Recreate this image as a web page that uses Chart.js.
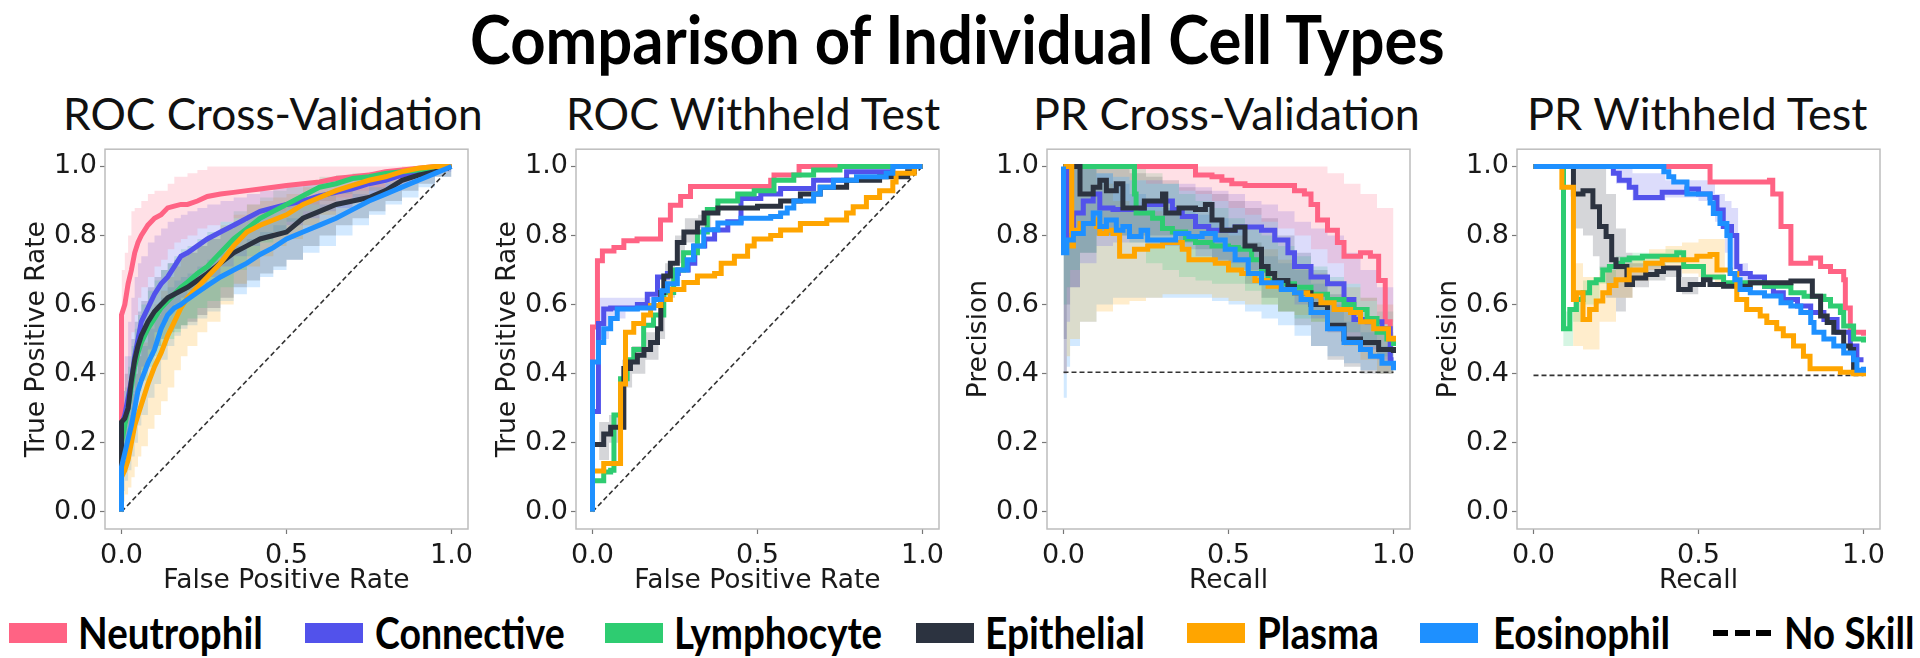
<!DOCTYPE html>
<html>
<head>
<meta charset="utf-8">
<script src="https://cdn.jsdelivr.net/npm/chart.js@4.4.1/dist/chart.umd.min.js"></script>
<style>
  html, body { margin: 0; padding: 0; background: #fff; }
  body { width: 1920px; height: 658px; position: relative; overflow: hidden; }
  .txt { position: absolute; white-space: nowrap; line-height: 1; color: #000; transform-origin: 0 50%; }
  #mainTitle { font-family: Lato, sans-serif; font-weight: 700; font-size: 66px; }
  .ptitle { font-family: Lato, sans-serif; font-size: 44px; color: #111; }
  .legText { font-family: Lato, sans-serif; font-weight: 700; font-size: 44px; }
  .patch { position: absolute; height: 20px; }
  canvas { position: absolute; top: 130px; }
</style>
</head>
<body>
<div id="mainTitle" class="txt" data-x="470" data-w="975" data-cy="41">Comparison of Individual Cell Types</div>
<div class="txt ptitle" data-x="63" data-w="420" data-cy="114">ROC Cross-Validation</div>
<div class="txt ptitle" data-x="566" data-w="374" data-cy="114">ROC Withheld Test</div>
<div class="txt ptitle" data-x="1033" data-w="387" data-cy="114">PR Cross-Validation</div>
<div class="txt ptitle" data-x="1527" data-w="340" data-cy="114">PR Withheld Test</div>

<canvas id="rocCv" width="493" height="470" style="left:1px"></canvas>
<canvas id="rocTest" width="493" height="470" style="left:472px"></canvas>
<canvas id="prCv" width="493" height="470" style="left:943px"></canvas>
<canvas id="prTest" width="493" height="470" style="left:1413px"></canvas>

<script>
// ---- legend / series ----
const cellTypes = ['Neutrophil', 'Connective', 'Lymphocyte', 'Epithelial', 'Plasma', 'Eosinophil'];
const cellColors = ['#ff6384', '#5252eb', '#2ecc71', '#2c3340', '#ffa500', '#1e90ff'];

const xTickVals = [0, 0.5, 1.0];
const yTickVals = [0, 0.2, 0.4, 0.6, 0.8, 1.0];

// ---- ROC cross-validation (mean and +/- band on a common FPR grid) ----
const rocCvX = [0, 0, .01, .02, .03, .04, .05, .06, .08, .10, .12, .14, .16, .18, .20, .23, .26, .30, .34, .38, .42, .46, .50, .55, .60, .65, .70, .75, .80, .85, .90, .95, 1];
const rocCvNeutro = [0, .57, .60, .66, .70, .75, .78, .80, .83, .85, .86, .88, .885, .89, .89, .90, .913, .92, .925, .93, .935, .94, .945, .95, .955, .965, .97, .975, .985, .99, .995, 1, 1];
const rocCvNeutroHi = [0, .70, .75, .80, .87, .88, .88, .90, .92, .93, .93, .95, .97, .97, .98, .99, 1, 1, 1, 1, 1, 1, 1, 1, 1, 1, 1, 1, 1, 1, 1, 1, 1];
const rocCvNeutroLo = [0, .25, .35, .45, .52, .57, .62, .65, .68, .71, .73, .76, .78, .79, .80, .82, .83, .84, .85, .86, .86, .87, .88, .89, .90, .91, .93, .94, .96, .97, .98, .99, 1];
const rocCvConn = [0, .25, .28, .33, .38, .45, .50, .55, .59, .63, .66, .68, .71, .74, .75, .77, .79, .81, .83, .85, .87, .88, .89, .90, .915, .925, .935, .95, .96, .975, .985, .995, 1];
const rocCvConnHi = [0, .35, .45, .55, .62, .68, .72, .74, .78, .80, .82, .84, .85, .86, .87, .88, .89, .90, .91, .92, .93, .94, .95, .95, .96, .97, .975, .98, .985, .99, .995, 1, 1];
const rocCvConnLo = [0, .15, .18, .22, .28, .33, .38, .42, .47, .52, .55, .58, .60, .62, .64, .66, .68, .71, .74, .77, .79, .81, .83, .85, .87, .88, .90, .92, .93, .95, .97, .985, 1];
const rocCvLymph = [0, .20, .25, .30, .36, .42, .46, .49, .53, .56, .59, .61, .63, .65, .665, .69, .71, .75, .79, .82, .85, .87, .89, .915, .94, .95, .965, .97, .98, .985, .99, .995, 1];
const rocCvLymphHi = [0, .30, .36, .42, .48, .53, .57, .60, .64, .67, .70, .72, .74, .76, .77, .79, .81, .84, .87, .89, .91, .93, .94, .95, .97, .975, .98, .985, .99, .995, 1, 1, 1];
const rocCvLymphLo = [0, .12, .16, .20, .25, .30, .35, .38, .42, .45, .48, .50, .52, .54, .56, .59, .61, .65, .70, .74, .78, .81, .84, .87, .90, .92, .94, .95, .97, .975, .98, .99, 1];
const rocCvEpi = [0, .26, .27, .30, .38, .44, .48, .51, .55, .58, .60, .62, .63, .64, .65, .67, .69, .72, .75, .77, .79, .80, .81, .85, .87, .89, .90, .91, .93, .96, .975, .985, 1];
const rocCvEpiHi = [0, .35, .40, .45, .50, .55, .58, .61, .65, .68, .70, .72, .73, .74, .75, .77, .79, .82, .84, .86, .87, .88, .89, .91, .92, .93, .94, .95, .96, .98, .99, .995, 1];
const rocCvEpiLo = [0, .15, .16, .18, .25, .32, .38, .41, .45, .48, .50, .52, .53, .54, .55, .57, .59, .62, .65, .67, .69, .71, .73, .77, .80, .83, .85, .87, .90, .93, .95, .97, 1];
const rocCvPlasma = [0, .10, .12, .15, .20, .25, .28, .31, .37, .42, .46, .51, .55, .59, .62, .65, .68, .72, .77, .81, .83, .845, .86, .89, .91, .93, .945, .96, .97, .985, .995, 1, 1];
const rocCvPlasmaHi = [0, .2, .24, .28, .34, .40, .45, .49, .55, .60, .64, .68, .71, .74, .76, .78, .80, .83, .86, .89, .90, .91, .92, .94, .95, .96, .97, .98, .99, 1, 1, 1, 1];
const rocCvPlasmaLo = [0, .03, .05, .07, .10, .13, .16, .19, .24, .28, .32, .36, .41, .45, .48, .52, .55, .60, .66, .71, .74, .77, .79, .83, .86, .89, .91, .93, .95, .97, .98, .99, 1];
const rocCvEosin = [0, .13, .17, .21, .25, .30, .35, .38, .43, .47, .53, .57, .59, .60, .615, .635, .655, .68, .70, .72, .745, .765, .79, .81, .83, .85, .875, .90, .92, .94, .96, .98, 1];
const rocCvEosinHi = [0, .2, .25, .30, .35, .40, .45, .48, .53, .57, .62, .65, .67, .68, .69, .71, .73, .75, .77, .79, .81, .83, .85, .87, .89, .90, .92, .94, .95, .97, .98, .99, 1];
const rocCvEosinLo = [0, .06, .09, .12, .16, .20, .25, .28, .33, .37, .44, .48, .51, .53, .54, .56, .58, .61, .63, .65, .68, .70, .73, .75, .77, .80, .83, .86, .89, .91, .94, .97, 1];

// ---- ROC withheld test ----
const rocTestNeutroX = [0, 0, 0, .015, .03, .065, .095, .135, .206, .236, .267, .297, .54, .55, .626, 1];
const rocTestNeutroY = [0, .44, .535, .727, .755, .765, .785, .79, .845, .888, .913, .942, .96, .975, 1, 1];
const rocTestConnX = [0, 0, .018, .034, .055, .136, .166, .197, .227, .26, .29, .31, .34, .37, .41, .45, .51, .57, .67, .77, .91, 1];
const rocTestConnY = [0, .29, .545, .587, .59, .60, .63, .68, .69, .70, .72, .77, .79, .816, .84, .907, .92, .936, .96, .985, 1, 1];
const rocTestLymphX = [0, 0, .034, .055, .065, .085, .105, .125, .155, .185, .216, .246, .276, .318, .348, .38, .44, .49, .55, .61, .67, .75, 1];
const rocTestLymphY = [0, .09, .115, .12, .28, .385, .44, .47, .54, .57, .635, .70, .75, .81, .875, .90, .92, .93, .96, .975, .99, 1, 1];
const rocTestEpiX = [0, 0, .034, .055, .095, .115, .136, .156, .176, .197, .207, .216, .236, .257, .277, .318, .338, .38, .50, .57, .63, .69, .77, .87, .955, .975, 1];
const rocTestEpiY = [0, .195, .225, .245, .415, .434, .453, .47, .49, .53, .635, .683, .72, .78, .81, .836, .865, .88, .885, .90, .92, .94, .96, .97, .985, 1, 1];
const rocTestPlasmaX = [0, 0, .034, .085, .10, .125, .155, .176, .207, .236, .277, .318, .37, .39, .43, .47, .49, .54, .57, .63, .71, .77, .79, .83, .87, .91, .92, .975, 1];
const rocTestPlasmaY = [0, .118, .14, .37, .52, .545, .57, .597, .615, .644, .664, .683, .69, .72, .74, .77, .79, .80, .816, .835, .845, .865, .883, .91, .93, .955, .98, 1, 1];
const rocTestEosinX = [0, 0, .018, .034, .055, .075, .136, .186, .21, .227, .257, .287, .306, .337, .38, .45, .54, .57, .59, .61, .67, .69, .73, .80, .89, .91, 1];
const rocTestEosinY = [0, .434, .49, .53, .56, .587, .59, .615, .64, .66, .70, .73, .77, .817, .836, .85, .855, .865, .88, .90, .92, .94, .96, .97, .98, 1, 1];
const rocTestEpiBandX = [.02, .05, .09, .12, .16, .2, .22, .25, .28, .32, .36];
const rocTestEpiBandHi = [.26, .28, .44, .48, .52, .60, .72, .80, .85, .86, .88];
const rocTestEpiBandLo = [.15, .20, .36, .40, .44, .50, .62, .72, .78, .82, .86];
const rocTestConnBandX = [.02, .05, .1, .14, .18];
const rocTestConnBandHi = [.62, .62, .62, .62, .66];
const rocTestConnBandLo = [.50, .56, .58, .59, .60];

// ---- PR cross-validation ----
const prCvNeutroX = [0, .40, .45, .48, .51, .55, .70, .73, .75, .77, .80, .83, .85, .90, .93, .955, .975, .99, 1];
const prCvNeutroY = [1, .975, .97, .96, .95, .945, .93, .92, .89, .845, .815, .78, .74, .75, .74, .67, .55, .50, .49];
const prCvConnX = [0, .01, .03, .06, .09, .11, .15, .19, .245, .30, .33, .36, .40, .44, .52, .60, .64, .68, .70, .75, .80, .85, .88, .92, .965, .99, 1];
const prCvConnY = [1, .80, .865, .90, .92, .88, .875, .875, .89, .90, .875, .855, .826, .815, .825, .815, .787, .75, .71, .68, .66, .615, .557, .55, .53, .44, .44];
const prCvLymphX = [0, .215, .22, .27, .30, .33, .37, .40, .45, .50, .53, .57, .60, .62, .66, .70, .75, .80, .85, .88, .92, .95, .98, 1];
const prCvLymphY = [1, .92, .865, .85, .82, .81, .79, .78, .77, .765, .76, .73, .70, .67, .66, .65, .63, .615, .60, .586, .56, .52, .50, .48];
const prCvEpiX = [0, .05, .09, .11, .13, .16, .18, .245, .30, .31, .35, .40, .43, .45, .48, .52, .55, .58, .60, .62, .64, .68, .70, .75, .80, .85, .90, .955, 1];
const prCvEpiY = [1, .92, .94, .96, .93, .95, .88, .90, .92, .865, .88, .875, .89, .845, .815, .825, .77, .76, .71, .69, .67, .653, .634, .60, .54, .50, .49, .47, .46];
const prCvPlasmaX = [0, .025, .03, .05, .09, .10, .11, .13, .15, .17, .215, .255, .30, .36, .38, .46, .50, .54, .58, .62, .66, .70, .74, .78, .82, .87, .90, .94, .985, 1];
const prCvPlasmaY = [1, .77, .815, .835, .845, .826, .806, .815, .806, .74, .76, .77, .78, .76, .73, .72, .70, .69, .67, .653, .644, .634, .625, .605, .586, .577, .55, .53, .50, .51];
const prCvEosinX = [0, 0, .01, .03, .06, .09, .11, .13, .16, .18, .20, .235, .255, .34, .38, .42, .46, .49, .52, .56, .60, .66, .70, .72, .75, .80, .85, .90, .93, .965, 1];
const prCvEosinY = [1, .75, .787, .806, .835, .865, .826, .845, .815, .826, .797, .815, .787, .806, .797, .806, .787, .76, .73, .69, .663, .644, .634, .615, .577, .53, .49, .47, .45, .43, .41];
const prCvBandX = [0, .01, .02, .05, .1, .15, .2, .25, .3, .35, .4, .45, .5, .55, .6, .65, .7, .75, .8, .85, .9, .95, 1];
const prCvNeutroHi = [1, 1, 1, 1, 1, 1, 1, 1, 1, 1, 1, 1, 1, 1, 1, 1, 1, 1, .98, .95, .92, .88, .6];
const prCvNeutroLo = [1, 1, 1, 1, .98, .97, .96, .95, .95, .93, .92, .9, .88, .86, .84, .82, .8, .76, .72, .66, .61, .55, .45];
const prCvConnHi = [1, 1, 1, 1, .98, .97, .96, .96, .95, .95, .94, .93, .92, .90, .89, .87, .84, .82, .80, .75, .70, .65, .55];
const prCvConnLo = [.4, .55, .65, .72, .77, .78, .78, .77, .77, .76, .74, .72, .72, .70, .69, .64, .60, .56, .52, .50, .47, .44, .40];
const prCvLymphHi = [1, 1, 1, 1, 1, 1, 1, .98, .95, .92, .90, .88, .85, .83, .80, .77, .74, .71, .68, .66, .62, .58, .53];
const prCvLymphLo = [.6, .65, .7, .75, .8, .8, .78, .72, .70, .68, .67, .66, .66, .64, .60, .58, .56, .55, .54, .52, .48, .45, .42];
const prCvEpiHi = [1, 1, 1, 1, 1, 1, .98, .97, .96, .94, .93, .92, .90, .88, .85, .80, .75, .70, .63, .58, .55, .52, .50];
const prCvEpiLo = [.5, .6, .65, .75, .80, .80, .80, .80, .80, .78, .76, .73, .70, .66, .62, .58, .54, .48, .44, .42, .40, .40, .40];
const prCvPlasmaHi = [1, 1, 1, 1, .95, .9, .88, .87, .86, .85, .83, .81, .80, .78, .76, .73, .71, .69, .67, .65, .62, .6, .6];
const prCvPlasmaLo = [.4, .45, .5, .55, .58, .6, .61, .62, .63, .63, .63, .62, .61, .6, .6, .58, .57, .55, .52, .48, .44, .40, .37];
const prCvEosinHi = [1, 1, 1, 1, .98, .95, .92, .9, .88, .87, .86, .85, .82, .78, .74, .72, .7, .66, .6, .55, .52, .48, .45];
const prCvEosinLo = [.33, .42, .48, .55, .6, .62, .62, .62, .62, .62, .62, .61, .6, .58, .56, .54, .51, .48, .45, .43, .41, .40, .39];

// ---- PR withheld test ----
const prTestNeutroX = [0, .535, .715, .725, .75, .78, .84, .87, .90, .94, .945, .96, 1];
const prTestNeutroY = [1, .955, .96, .92, .826, .72, .735, .71, .696, .672, .59, .52, .51];
const prTestConnX = [0, .242, .26, .29, .31, .39, .465, .50, .535, .556, .575, .60, .616, .626, .657, .70, .727, .757, .80, .84, .88, .92, .96, .98, 1];
const prTestConnY = [1, .98, .96, .94, .91, .925, .935, .92, .91, .874, .826, .80, .71, .69, .68, .653, .634, .615, .596, .577, .557, .52, .48, .44, .44];
const prTestLymphX = [0, .091, .11, .13, .15, .17, .19, .21, .23, .25, .27, .29, .33, .434, .455, .515, .576, .70, .78, .82, .88, .90, .93, .94, .97, 1];
const prTestLymphY = [1, .53, .586, .615, .634, .663, .672, .70, .71, .72, .73, .735, .74, .75, .71, .68, .663, .653, .634, .624, .615, .596, .577, .538, .50, .49];
const prTestEpiX = [0, .121, .15, .18, .20, .22, .237, .25, .283, .30, .34, .374, .394, .44, .475, .515, .535, .576, .657, .78, .845, .87, .89, .91, .94, .96, .97, 1];
const prTestEpiY = [1, .92, .93, .883, .826, .797, .73, .71, .658, .677, .687, .696, .706, .644, .658, .672, .658, .653, .663, .668, .624, .567, .548, .52, .48, .47, .404, .404];
const prTestPlasmaX = [0, .086, .121, .13, .15, .17, .19, .21, .23, .25, .29, .34, .39, .495, .535, .556, .596, .616, .646, .687, .707, .737, .757, .788, .818, .838, .93, .97, 1];
const prTestPlasmaY = [1, .94, .615, .634, .557, .586, .61, .634, .655, .672, .70, .72, .73, .74, .745, .70, .69, .615, .586, .567, .548, .53, .51, .48, .45, .414, .404, .40, .404];
const prTestEosinX = [0, .375, .395, .41, .425, .465, .50, .535, .545, .565, .586, .596, .61, .626, .657, .70, .75, .78, .81, .84, .85, .88, .91, .94, .97, .98, 1];
const prTestEosinY = [1, 1, .985, .97, .955, .92, .92, .894, .864, .835, .80, .69, .672, .644, .634, .625, .605, .596, .577, .548, .52, .50, .48, .46, .44, .41, .42];
const prTestEpiBandX = [.121, .15, .18, .20, .22, .25, .28, .30, .35, .40, .45, .50];
const prTestEpiBandHi = [1, 1, 1, 1, .92, .82, .75, .72, .72, .71, .68, .68];
const prTestEpiBandLo = [.82, .80, .74, .70, .62, .58, .62, .65, .67, .68, .63, .64];
const prTestPlasmaBandX = [.12, .15, .2, .25, .3, .35, .4, .45, .5, .55, .58];
const prTestPlasmaBandHi = [.72, .68, .70, .72, .74, .76, .77, .78, .79, .79, .72];
const prTestPlasmaBandLo = [.48, .47, .55, .62, .67, .70, .70, .69, .68, .65, .60];
const prTestConnBandX = [.25, .3, .4, .5, .55, .58, .6, .62, .65];
const prTestConnBandHi = [1, .98, .96, .96, .92, .90, .88, .72, .70];
const prTestConnBandLo = [.95, .90, .91, .90, .84, .75, .70, .66, .66];
const prTestLymphBandX = [.09, .12, .15, .2, .25, .3, .4, .45];
const prTestLymphBandHi = [.58, .63, .67, .71, .74, .75, .76, .73];
const prTestLymphBandLo = [.48, .55, .60, .66, .70, .71, .72, .68];

// ---- no-skill reference lines ----
const noSkillRocX = [0, 1];
const noSkillRocY = [0, 1];
const noSkillPrX = [0, 1];
const noSkillPrCvY = [.404, .404];
const noSkillPrTestY = [.395, .395];

// ---------------------------------------------------------------
function pts(xs, ys) {
  return xs.map((x, i) => ({ x: x, y: ys[i] }));
}

function fade(hex, a) {
  const n = parseInt(hex.slice(1), 16);
  return `rgba(${n >> 16}, ${(n >> 8) & 255}, ${n & 255}, ${a})`;
}

function meanLine(xs, ys, k, stepped) {
  return {
    data: pts(xs, ys),
    borderColor: cellColors[k],
    borderWidth: 5,
    borderCapStyle: 'butt',
    borderJoinStyle: 'miter',
    pointRadius: 0,
    fill: false,
    stepped: stepped,
    order: 5 - k
  };
}

function band(xs, hi, lo, k) {
  const base = { borderWidth: 0, borderColor: 'rgba(0,0,0,0)', pointRadius: 0, stepped: true, order: 20 };
  return [
    Object.assign({ data: pts(xs, hi), fill: '+1', backgroundColor: fade(cellColors[k], 0.2) }, base),
    Object.assign({ data: pts(xs, lo), fill: false }, base)
  ];
}

function noSkill(xs, ys) {
  return {
    data: pts(xs, ys), borderColor: '#333', borderWidth: 1.6, borderDash: [5, 3],
    pointRadius: 0, fill: false, order: 6
  };
}

// box round the plot area, like matplotlib spines
const boxPlugin = {
  id: 'box',
  afterDraw(chart) {
    const a = chart.chartArea, ctx = chart.ctx;
    ctx.save();
    ctx.strokeStyle = '#bdbdbd';
    ctx.lineWidth = 1.5;
    ctx.strokeRect(a.left, a.top, a.right - a.left, a.bottom - a.top);
    ctx.restore();
  }
};

function axis(isX, title) {
  return {
    type: 'linear',
    min: -0.05,
    max: 1.05,
    afterBuildTicks: s => { s.ticks = (isX ? xTickVals : yTickVals).map(v => ({ value: v })); },
    afterFit: s => { if (isX) s.height = 71; else s.width = 104; },
    grid: { drawOnChartArea: false, drawTicks: true, tickLength: 5, tickColor: '#777', tickWidth: 1.2 },
    border: { display: false },
    ticks: {
      color: '#1a1a1a', padding: isX ? 6 : 3, maxRotation: 0, autoSkip: false,
      font: { family: 'DejaVu Sans', size: 27 },
      callback: v => Number(v).toFixed(1)
    },
    title: {
      display: true, text: title, color: '#1a1a1a',
      font: { family: 'DejaVu Sans', size: 26.5 },
      padding: isX ? { top: 0, bottom: 3 } : { top: 20, bottom: 0 }
    }
  };
}

function makePanel(id, xTitle, yTitle, datasets) {
  new Chart(document.getElementById(id), {
    type: 'line',
    data: { datasets: datasets },
    options: {
      responsive: false,
      animation: false,
      events: [],
      layout: { padding: { top: 16, right: 26, bottom: 0, left: 0 } },
      plugins: {
        legend: { display: false },
        tooltip: { enabled: false },
        filler: { drawTime: 'beforeDatasetsDraw' }
      },
      scales: { x: axis(true, xTitle), y: axis(false, yTitle) }
    },
    plugins: [boxPlugin]
  });
}

// Panel 1
const rocCvMeans = [rocCvNeutro, rocCvConn, rocCvLymph, rocCvEpi, rocCvPlasma, rocCvEosin];
const rocCvHi = [rocCvNeutroHi, rocCvConnHi, rocCvLymphHi, rocCvEpiHi, rocCvPlasmaHi, rocCvEosinHi];
const rocCvLo = [rocCvNeutroLo, rocCvConnLo, rocCvLymphLo, rocCvEpiLo, rocCvPlasmaLo, rocCvEosinLo];
let ds = [];
cellTypes.forEach((c, k) => { ds = ds.concat(band(rocCvX, rocCvHi[k], rocCvLo[k], k)); });
cellTypes.forEach((c, k) => { ds.push(meanLine(rocCvX, rocCvMeans[k], k, false)); });
ds.push(noSkill(noSkillRocX, noSkillRocY));
makePanel('rocCv', 'False Positive Rate', 'True Positive Rate', ds);

// Panel 2
ds = [].concat(
  band(rocTestEpiBandX, rocTestEpiBandHi, rocTestEpiBandLo, 3),
  band(rocTestConnBandX, rocTestConnBandHi, rocTestConnBandLo, 1)
);
const rocTestXs = [rocTestNeutroX, rocTestConnX, rocTestLymphX, rocTestEpiX, rocTestPlasmaX, rocTestEosinX];
const rocTestYs = [rocTestNeutroY, rocTestConnY, rocTestLymphY, rocTestEpiY, rocTestPlasmaY, rocTestEosinY];
cellTypes.forEach((c, k) => { ds.push(meanLine(rocTestXs[k], rocTestYs[k], k, true)); });
ds.push(noSkill(noSkillRocX, noSkillRocY));
makePanel('rocTest', 'False Positive Rate', 'True Positive Rate', ds);

// Panel 3
const prCvHi = [prCvNeutroHi, prCvConnHi, prCvLymphHi, prCvEpiHi, prCvPlasmaHi, prCvEosinHi];
const prCvLo = [prCvNeutroLo, prCvConnLo, prCvLymphLo, prCvEpiLo, prCvPlasmaLo, prCvEosinLo];
const prCvXs = [prCvNeutroX, prCvConnX, prCvLymphX, prCvEpiX, prCvPlasmaX, prCvEosinX];
const prCvYs = [prCvNeutroY, prCvConnY, prCvLymphY, prCvEpiY, prCvPlasmaY, prCvEosinY];
ds = [];
cellTypes.forEach((c, k) => { ds = ds.concat(band(prCvBandX, prCvHi[k], prCvLo[k], k)); });
cellTypes.forEach((c, k) => { ds.push(meanLine(prCvXs[k], prCvYs[k], k, true)); });
ds.push(noSkill(noSkillPrX, noSkillPrCvY));
makePanel('prCv', 'Recall', 'Precision', ds);

// Panel 4
ds = [].concat(
  band(prTestEpiBandX, prTestEpiBandHi, prTestEpiBandLo, 3),
  band(prTestPlasmaBandX, prTestPlasmaBandHi, prTestPlasmaBandLo, 4),
  band(prTestConnBandX, prTestConnBandHi, prTestConnBandLo, 1),
  band(prTestLymphBandX, prTestLymphBandHi, prTestLymphBandLo, 2)
);
const prTestXs = [prTestNeutroX, prTestConnX, prTestLymphX, prTestEpiX, prTestPlasmaX, prTestEosinX];
const prTestYs = [prTestNeutroY, prTestConnY, prTestLymphY, prTestEpiY, prTestPlasmaY, prTestEosinY];
cellTypes.forEach((c, k) => { ds.push(meanLine(prTestXs[k], prTestYs[k], k, true)); });
ds.push(noSkill(noSkillPrX, noSkillPrTestY));
makePanel('prTest', 'Recall', 'Precision', ds);

// ---- legend row (HTML) ----
// [patch left, text left, text width]
const legendSlots = [[9, 78, 185], [305, 375, 190], [605, 674, 208], [916, 985, 160], [1187, 1257, 122], [1420, 1493, 177], [1713, 1784, 131]];
const legendCy = 633;
const legendItems = cellTypes.concat(['No Skill']);
legendItems.forEach((name, i) => {
  const [pl, tl, tw] = legendSlots[i];
  const p = document.createElement('div');
  p.className = 'patch';
  p.style.left = pl + 'px';
  p.style.width = '58px';
  if (i < cellTypes.length) {
    p.style.background = cellColors[i];
    p.style.top = (legendCy - 10) + 'px';
  } else {
    p.style.height = '6px';
    p.style.top = (legendCy - 3) + 'px';
    p.style.background = 'repeating-linear-gradient(to right, #000 0 15px, transparent 15px 21.5px)';
  }
  document.body.appendChild(p);
  const t = document.createElement('div');
  t.className = 'txt legText';
  t.textContent = name;
  t.dataset.x = tl;
  t.dataset.w = tw;
  t.dataset.cy = legendCy;
  document.body.appendChild(t);
});

// squeeze/stretch html text to the measured widths of the original
function fitText() {
  document.querySelectorAll('.txt').forEach(el => {
    const fs = parseFloat(getComputedStyle(el).fontSize);
    el.style.transform = 'none';
    const nat = el.offsetWidth;
    el.style.left = el.dataset.x + 'px';
    el.style.top = (el.dataset.cy - 0.53 * fs) + 'px';
    el.style.transform = 'scaleX(' + (el.dataset.w / nat) + ')';
  });
}
fitText();
if (document.fonts && document.fonts.ready) document.fonts.ready.then(fitText);
</script>
</body>
</html>
